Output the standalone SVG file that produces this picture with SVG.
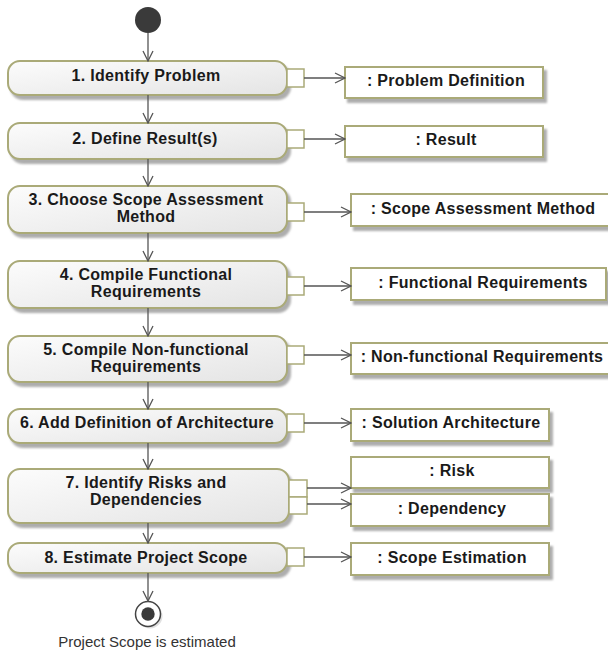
<svg xmlns="http://www.w3.org/2000/svg" width="608" height="652" viewBox="0 0 608 652">
<defs>
<linearGradient id="g" x1="0" y1="0" x2="1" y2="1">
<stop offset="0" stop-color="#fcfcfc"/>
<stop offset="1" stop-color="#e4e4e4"/>
</linearGradient>
<filter id="sh" x="-5%" y="-20%" width="115%" height="150%">
<feDropShadow dx="3" dy="4" stdDeviation="1" flood-color="#999" flood-opacity="0.8"/>
</filter>
<marker id="ah" markerWidth="12" markerHeight="12" refX="11" refY="6" orient="auto" markerUnits="userSpaceOnUse">
<path d="M1,1 L11,6 L1,11" fill="none" stroke="#555" stroke-width="1.3"/>
</marker>
</defs>
<style>
.act{fill:url(#g);stroke:#aaaa78;stroke-width:2;filter:url(#sh)}
.obj{fill:#fff;stroke:#aaaa78;stroke-width:2;filter:url(#sh)}
.pin{fill:#fff;stroke:#aaaa78;stroke-width:1.5}
.t{font-family:"Liberation Sans",Arial,sans-serif;font-weight:bold;font-size:16px;letter-spacing:0.3px;fill:#1a1a1a;text-anchor:middle}
.f{stroke:#555;stroke-width:1.3;fill:none;marker-end:url(#ah)}
</style>
<rect width="608" height="652" fill="#fff"/>

<g id="initial"><circle cx="148" cy="20" r="13" fill="#3a3a3a"/></g>

<g id="a1"><rect class="act" x="8" y="61" width="279" height="34" rx="12"/><rect class="pin" x="287" y="69" width="17" height="18"/><text class="t" x="146" y="81">1. Identify Problem</text></g>
<g id="a2"><rect class="act" x="8" y="123" width="279" height="36" rx="12"/><rect class="pin" x="287" y="130" width="17" height="18"/><text class="t" x="145" y="144">2. Define Result(s)</text></g>
<g id="a3"><rect class="act" x="8" y="186" width="279" height="47" rx="12"/><rect class="pin" x="287" y="203" width="17" height="18"/><text class="t" x="146" y="205">3. Choose Scope Assessment</text><text class="t" x="146" y="222">Method</text></g>
<g id="a4"><rect class="act" x="8" y="261" width="279" height="47" rx="12"/><rect class="pin" x="287" y="277" width="17" height="18"/><text class="t" x="146" y="280">4. Compile Functional</text><text class="t" x="146" y="297">Requirements</text></g>
<g id="a5"><rect class="act" x="8" y="336" width="279" height="46" rx="12"/><rect class="pin" x="287" y="346" width="17" height="18"/><text class="t" x="146" y="355">5. Compile Non-functional</text><text class="t" x="146" y="372">Requirements</text></g>
<g id="a6"><rect class="act" x="8" y="409" width="279" height="34" rx="12"/><rect class="pin" x="287" y="414" width="17" height="18"/><text class="t" x="147" y="428">6. Add Definition of Architecture</text></g>
<g id="a7"><rect class="act" x="8" y="469" width="281" height="54" rx="12"/><rect class="pin" x="289" y="480" width="18" height="17"/><rect class="pin" x="289" y="497" width="18" height="17"/><text class="t" x="146" y="488">7. Identify Risks and</text><text class="t" x="146" y="505">Dependencies</text></g>
<g id="a8"><rect class="act" x="8" y="543" width="279" height="30" rx="12"/><rect class="pin" x="287" y="548" width="17" height="18"/><text class="t" x="146" y="563">8. Estimate Project Scope</text></g>

<g id="o1"><rect class="obj" x="345" y="67" width="198" height="31"/><text class="t" x="446" y="86">: Problem Definition</text></g>
<g id="o2"><rect class="obj" x="345" y="126" width="198" height="31"/><text class="t" x="446" y="145">: Result</text></g>
<g id="o3"><rect class="obj" x="351" y="194" width="264" height="32"/><text class="t" x="483" y="214">: Scope Assessment Method</text></g>
<g id="o4"><rect class="obj" x="351" y="268" width="255" height="32"/><text class="t" x="483" y="288">: Functional Requirements</text></g>
<g id="o5"><rect class="obj" x="351" y="343" width="262" height="31"/><text class="t" x="482" y="362">: Non-functional Requirements</text></g>
<g id="o6"><rect class="obj" x="351" y="409" width="198" height="32"/><text class="t" x="451" y="428">: Solution Architecture</text></g>
<g id="o7"><rect class="obj" x="351" y="457" width="198" height="31"/><text class="t" x="452" y="476">: Risk</text></g>
<g id="o8"><rect class="obj" x="351" y="494" width="198" height="32"/><text class="t" x="452" y="514">: Dependency</text></g>
<g id="o9"><rect class="obj" x="351" y="543" width="198" height="32"/><text class="t" x="452" y="563">: Scope Estimation</text></g>

<g id="final"><circle cx="150" cy="616" r="12.5" fill="#ccc" opacity="0.6"/><circle cx="148" cy="614" r="12.5" fill="#fff" stroke="#444" stroke-width="1.5"/><circle cx="148" cy="614" r="6.7" fill="#3a3a3a"/><text x="147" y="647" font-family="'Liberation Sans',Arial,sans-serif" font-size="15" fill="#333" text-anchor="middle">Project Scope is estimated</text></g>

<g id="connectors">
<path class="f" d="M148,33 V61"/>
<path class="f" d="M148,95 V123"/>
<path class="f" d="M148,159 V186"/>
<path class="f" d="M148,233 V261"/>
<path class="f" d="M148,308 V336"/>
<path class="f" d="M148,382 V409"/>
<path class="f" d="M148,443 V469"/>
<path class="f" d="M148,523 V543"/>
<path class="f" d="M148,573 V601"/>
<path class="f" d="M304,78 H345"/>
<path class="f" d="M304,139 H345"/>
<path class="f" d="M304,212 H351"/>
<path class="f" d="M304,286 H351"/>
<path class="f" d="M304,355 H351"/>
<path class="f" d="M304,423 H351"/>
<path class="f" d="M307,488 H351"/>
<path class="f" d="M307,504 H351"/>
<path class="f" d="M304,557 H351"/>
</g>
</svg>
